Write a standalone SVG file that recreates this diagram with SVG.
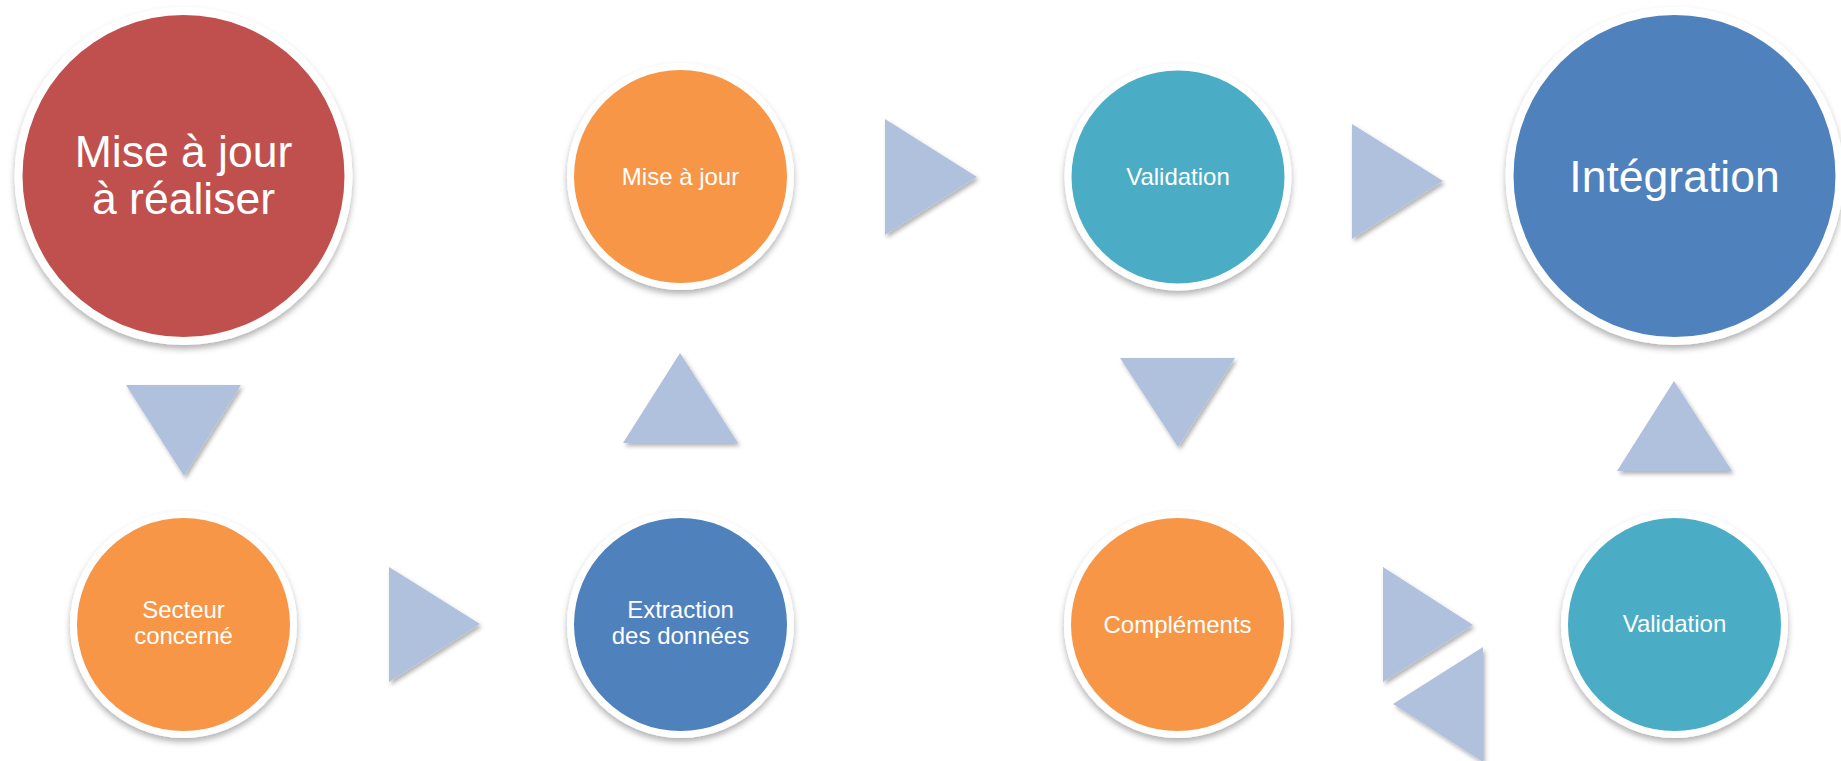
<svg xmlns="http://www.w3.org/2000/svg" width="1841" height="761" viewBox="0 0 1841 761">
<style>
.ring{fill:#FFFFFF;filter:url(#sh)}
.red{fill:#C0504D}
.org{fill:#F79646}
.teal{fill:#4BACC6}
.blue{fill:#4F81BD}
.tri{fill:#B0C1DD;filter:url(#tsh)}
.lbl{font-family:"Liberation Sans",Arial,sans-serif;fill:#FFFFFF;text-anchor:middle}
.big{font-size:44.5px}
.sm{font-size:24px}
</style>
<defs>
<filter id="sh" x="-20%" y="-20%" width="140%" height="150%">
<feDropShadow dx="0" dy="4" stdDeviation="3" flood-color="#000" flood-opacity="0.3"/>
</filter>
<filter id="tsh" x="-20%" y="-20%" width="150%" height="150%">
<feDropShadow dx="2" dy="3" stdDeviation="2" flood-color="#000" flood-opacity="0.3"/>
</filter>
</defs>
<g id="connectors">
<polygon class="tri" points="126,385 241,385 184,476"/>
<polygon class="tri" points="389,567 389,682 480,624"/>
<polygon class="tri" points="623,443 738,443 680,353"/>
<polygon class="tri" points="885,119 885,235 977,177"/>
<polygon class="tri" points="1120,358 1235,358 1178,447"/>
<polygon class="tri" points="1352,124 1352,239 1443,181"/>
<polygon class="tri" points="1383,567 1383,682 1473,625"/>
<polygon class="tri" points="1483,647 1483,762 1393,704"/>
<polygon class="tri" points="1617,471 1732,471 1674,381"/>
</g>
<g id="n-mise-a-jour-a-realiser">
<circle class="ring" cx="183.5" cy="176" r="169"/>
<circle class="red" cx="183.5" cy="176" r="161"/>
<text class="lbl big" x="183.5" y="167">Mise à jour</text>
<text class="lbl big" x="183.5" y="214">à réaliser</text>
</g>
<g id="n-secteur">
<circle class="ring" cx="183.5" cy="624.5" r="113.5"/>
<circle class="org" cx="183.5" cy="624.5" r="106.5"/>
<text class="lbl sm" x="183.5" y="618">Secteur</text>
<text class="lbl sm" x="183.5" y="644">concerné</text>
</g>
<g id="n-extraction">
<circle class="ring" cx="680.5" cy="624.5" r="113.5"/>
<circle class="blue" cx="680.5" cy="624.5" r="106.5"/>
<text class="lbl sm" x="680.5" y="618">Extraction</text>
<text class="lbl sm" x="680.5" y="644">des données</text>
</g>
<g id="n-mise-a-jour">
<circle class="ring" cx="680.5" cy="176.5" r="113.5"/>
<circle class="org" cx="680.5" cy="176.5" r="106.5"/>
<text class="lbl sm" x="680.5" y="185">Mise à jour</text>
</g>
<g id="n-validation-1">
<circle class="ring" cx="1178" cy="177" r="113.5"/>
<circle class="teal" cx="1178" cy="177" r="106.5"/>
<text class="lbl sm" x="1178" y="185">Validation</text>
</g>
<g id="n-complements">
<circle class="ring" cx="1177.5" cy="624.5" r="113.5"/>
<circle class="org" cx="1177.5" cy="624.5" r="106.5"/>
<text class="lbl sm" x="1177.5" y="633">Compléments</text>
</g>
<g id="n-validation-2">
<circle class="ring" cx="1674.5" cy="624.5" r="113.5"/>
<circle class="teal" cx="1674.5" cy="624.5" r="106.5"/>
<text class="lbl sm" x="1674.5" y="632">Validation</text>
</g>
<g id="n-integration">
<circle class="ring" cx="1674.5" cy="176" r="169"/>
<circle class="blue" cx="1674.5" cy="176" r="161"/>
<text class="lbl big" x="1674.5" y="192">Intégration</text>
</g>
</svg>
